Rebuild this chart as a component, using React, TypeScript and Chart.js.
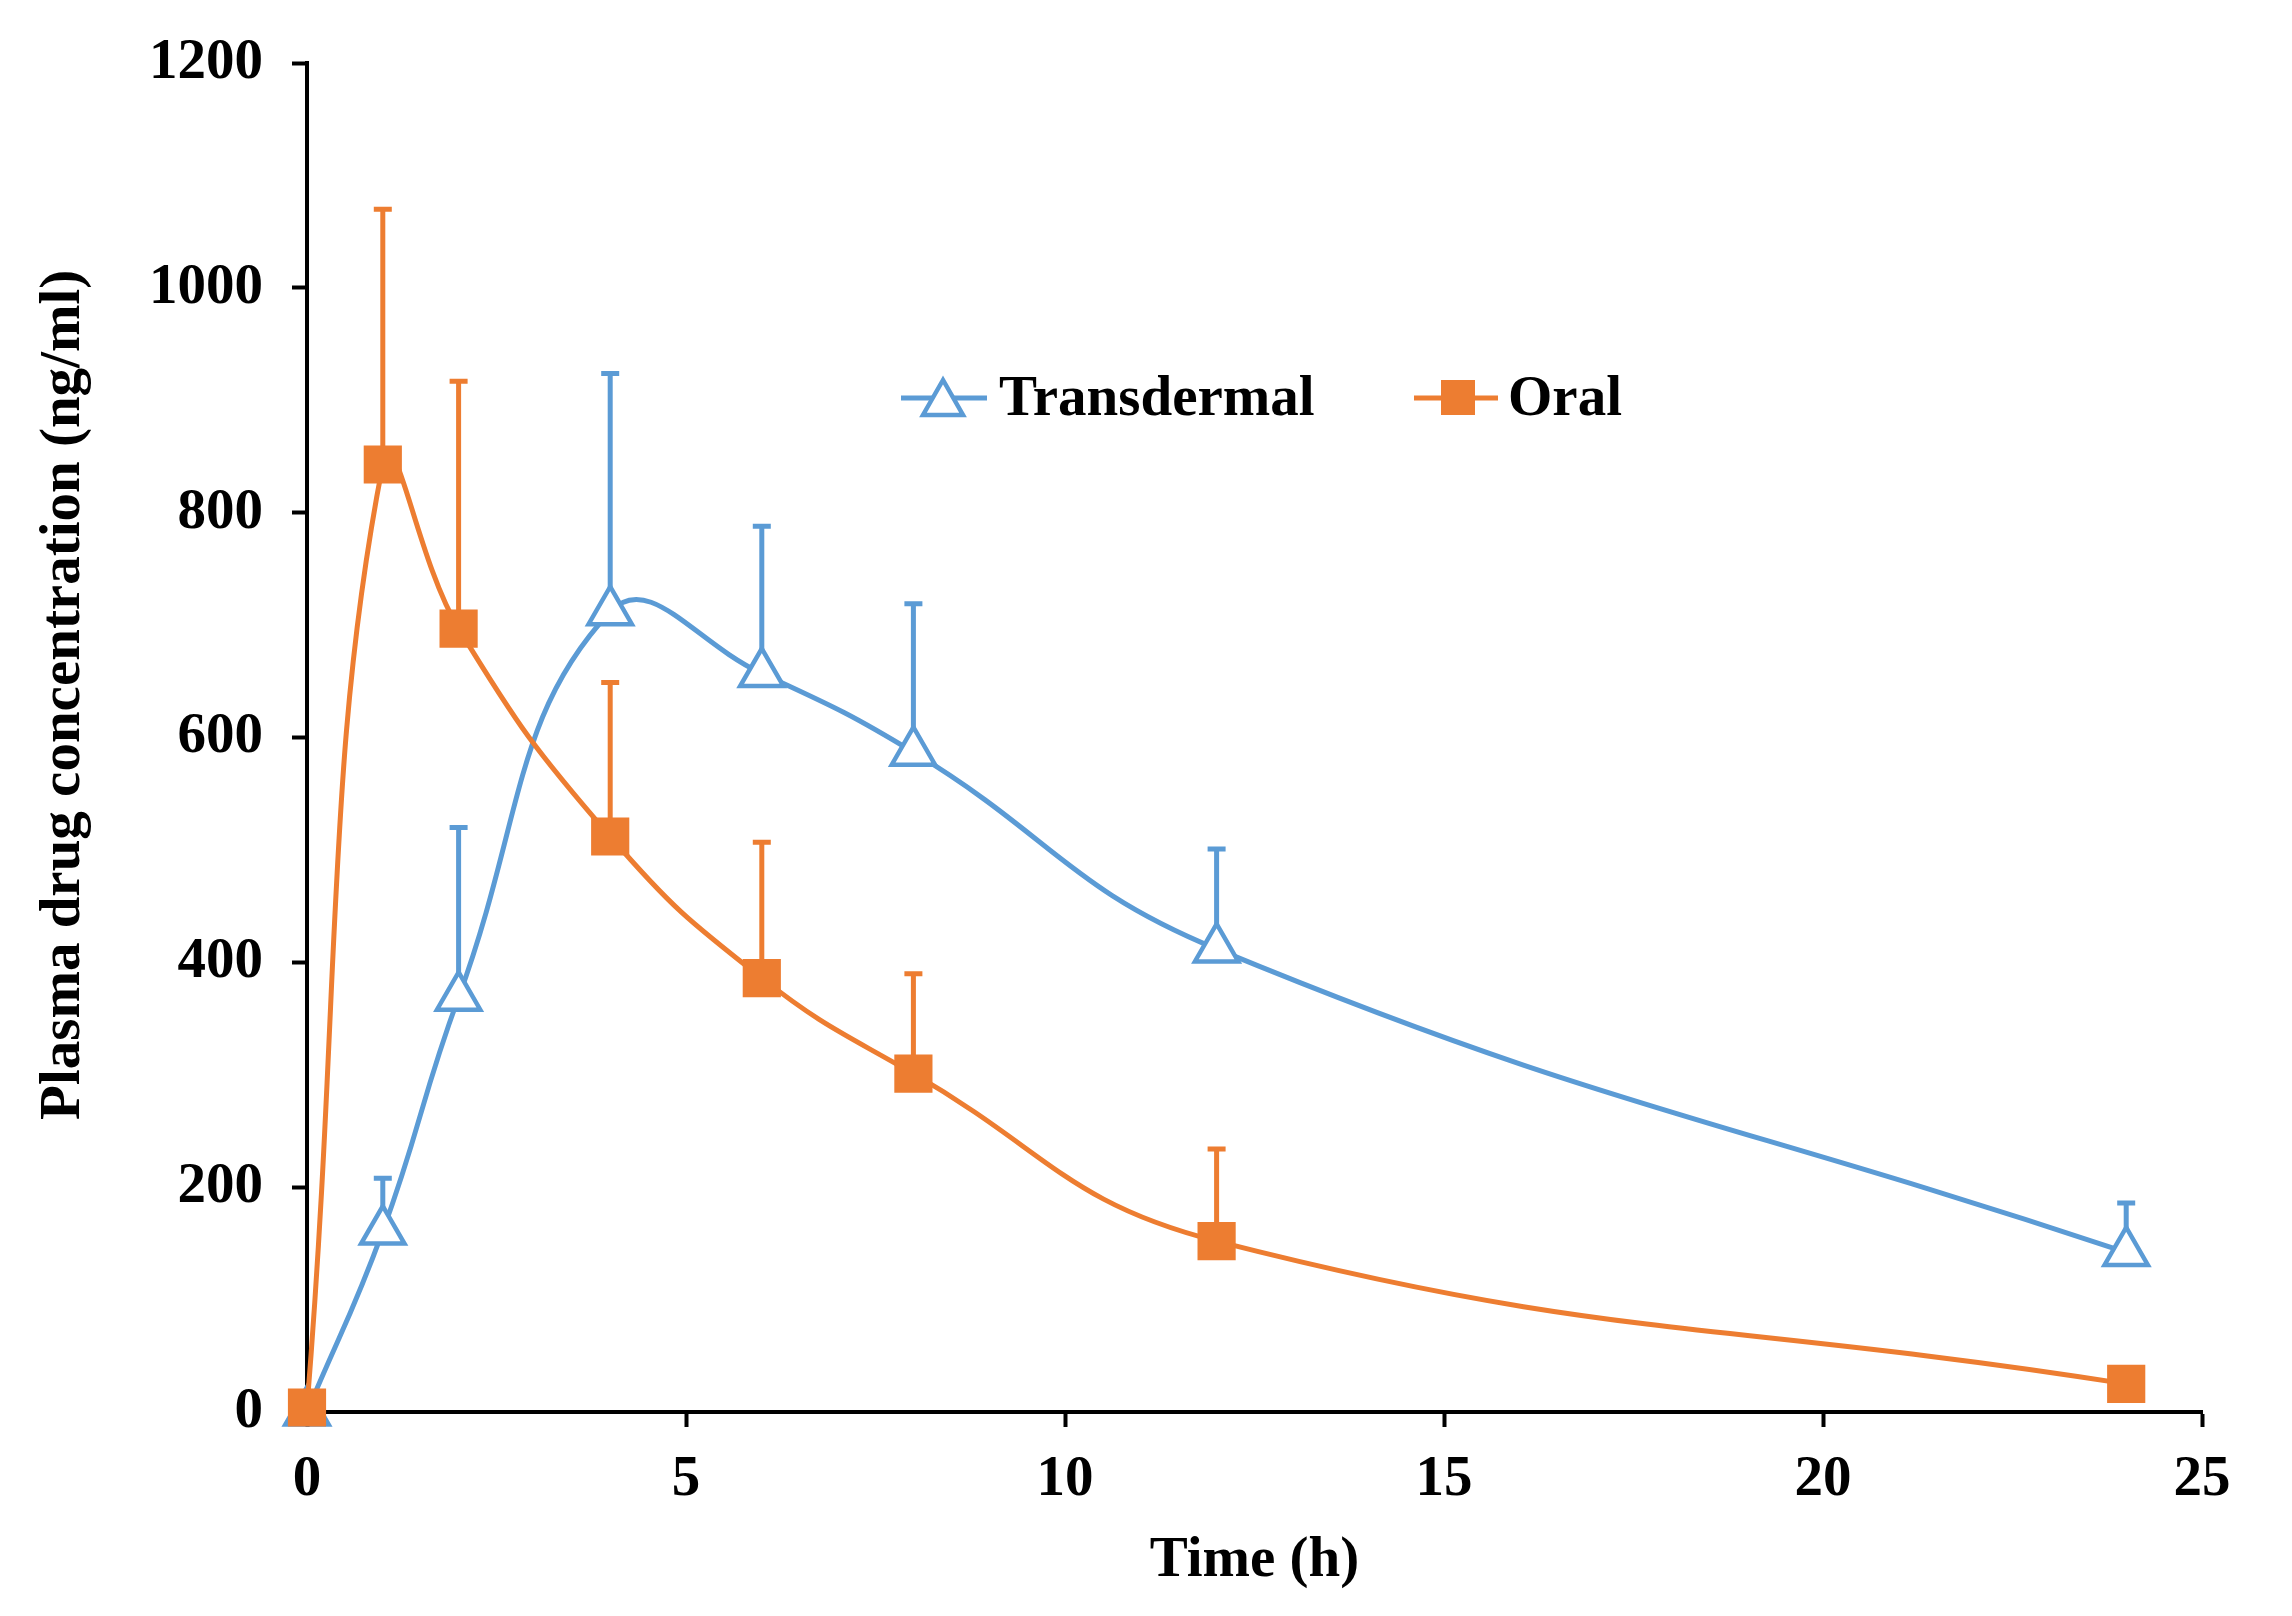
import { useEffect, useRef } from "react"
import { Chart, registerables } from "chart.js"

Chart.register(...registerables)

// sampling times (h) and mean ± SD (upper bar only)
const timeHours = [0, 1, 2, 4, 6, 8, 12, 24]
const transdermalMean = [0, 161, 369, 712, 657, 587, 412, 142]
const transdermalSD = [0, 47, 151, 212, 131, 132, 89, 44]
const oralMean = [4, 843, 697, 512, 386, 301, 152, 25]
const oralSD = [0, 227, 220, 137, 121, 89, 82, 0]

const xTicks = [0, 5, 10, 15, 20, 25]
const yTicks = [0, 200, 400, 600, 800, 1000, 1200]

const BLUE = "#5B9BD5"
const ORANGE = "#ED7D31"
const FONT = "'Liberation Serif', 'Times New Roman', serif"

const W = 2292
const H = 1616

const errorBars = {
  id: "errorBars",
  beforeDatasetsDraw(chart: any) {
    const { ctx, scales } = chart
    chart.data.datasets.forEach((ds: any, i: number) => {
      const sd: number[] = ds.sd || []
      const meta = chart.getDatasetMeta(i)
      ctx.save()
      ctx.strokeStyle = ds.borderColor
      ctx.lineWidth = 5
      meta.data.forEach((pt: any, j: number) => {
        if (!sd[j]) return
        const x = pt.x
        const y0 = scales.y.getPixelForValue(ds.data[j].y)
        const y1 = scales.y.getPixelForValue(ds.data[j].y + sd[j])
        ctx.beginPath()
        ctx.moveTo(x, y0)
        ctx.lineTo(x, y1)
        ctx.moveTo(x - 9, y1)
        ctx.lineTo(x + 9, y1)
        ctx.stroke()
      })
      ctx.restore()
    })
  },
}

export default function App() {
  const chartRef = useRef<HTMLCanvasElement>(null)
  const chartInstance = useRef<Chart | null>(null)

  useEffect(() => {
    if (!chartRef.current) return
    if (chartInstance.current) chartInstance.current.destroy()
    const ctx = chartRef.current.getContext("2d")
    if (!ctx) return

    const tickFont = { family: FONT, size: 57, weight: "bold" as const }

    chartInstance.current = new Chart(ctx, {
      type: "line",
      data: {
        datasets: [
          {
            label: "Transdermal",
            data: timeHours.map((t, i) => ({ x: t, y: transdermalMean[i] })),
            sd: transdermalSD,
            borderColor: BLUE,
            backgroundColor: "#ffffff",
            borderWidth: 5,
            tension: 0.45,
            pointStyle: "triangle",
            pointRadius: 25,
            pointBorderWidth: 4.5,
            pointBackgroundColor: "#ffffff",
            pointBorderColor: BLUE,
            clip: false,
            order: 1,
          } as any,
          {
            label: "Oral",
            data: timeHours.map((t, i) => ({ x: t, y: oralMean[i] })),
            sd: oralSD,
            borderColor: ORANGE,
            backgroundColor: ORANGE,
            borderWidth: 5,
            tension: 0.45,
            pointStyle: "rect",
            pointRadius: 27,
            pointBorderWidth: 0,
            pointBackgroundColor: ORANGE,
            clip: false,
            order: 0,
          } as any,
        ],
      },
      options: {
        responsive: false,
        animation: false,
        devicePixelRatio: 1,
        layout: { padding: { top: 51, right: 90, left: 0, bottom: 0 } },
        plugins: {
          legend: { display: false },
          tooltip: { enabled: false },
        },
        scales: {
          x: {
            type: "linear",
            min: 0,
            max: 25,
            afterFit: (scale: any) => {
              scale.height = H - 1412
            },
            afterBuildTicks: (scale: any) => {
              scale.ticks = xTicks.map((v) => ({ value: v }))
            },
            border: { color: "#000", width: 4 },
            grid: { drawOnChartArea: false, tickLength: 15, tickWidth: 4, tickColor: "#000" },
            ticks: { color: "#000", font: tickFont, padding: 19, callback: (v: any) => String(v) },
            title: {
              display: true,
              text: "Time (h)",
              color: "#000",
              font: tickFont,
              padding: { top: 0, bottom: 21 },
            },
          },
          y: {
            type: "linear",
            min: 0,
            max: 1200,
            afterFit: (scale: any) => {
              scale.width = 307
            },
            afterBuildTicks: (scale: any) => {
              scale.ticks = yTicks.map((v) => ({ value: v }))
            },
            border: { color: "#000", width: 4 },
            grid: { drawOnChartArea: false, tickLength: 15, tickWidth: 4, tickColor: "#000" },
            ticks: { color: "#000", font: tickFont, padding: 29, callback: (v: any) => String(v) },
            title: {
              display: true,
              text: "      Plasma drug concentration (ng/ml)",
              color: "#000",
              font: tickFont,
              padding: { top: 30, bottom: 0 },
            },
          },
        },
      },
      plugins: [errorBars],
    })

    return () => {
      if (chartInstance.current) {
        chartInstance.current.destroy()
        chartInstance.current = null
      }
    }
  }, [])

  const legendText = {
    position: "absolute" as const,
    top: 364,
    fontFamily: FONT,
    fontWeight: "bold" as const,
    fontSize: 57,
    lineHeight: "63px",
    color: "#000",
    whiteSpace: "nowrap" as const,
  }

  return (
    <div style={{ position: "absolute", left: 0, top: 0, width: W, height: H, background: "#fff" }}>
      <canvas ref={chartRef} width={W} height={H} style={{ display: "block" }} />
      <svg style={{ position: "absolute", left: 901, top: 373 }} width={86} height={50}>
        <line x1={0} y1={25} x2={86} y2={25} stroke={BLUE} strokeWidth={5} />
        <polygon points="42,7 22,42 62,42" fill="#fff" stroke={BLUE} strokeWidth={4.5} />
      </svg>
      <div style={{ ...legendText, left: 999 }}>Transdermal</div>
      <svg style={{ position: "absolute", left: 1414, top: 373 }} width={84} height={50}>
        <line x1={0} y1={25} x2={84} y2={25} stroke={ORANGE} strokeWidth={5} />
        <rect x={27} y={7} width={34} height={35} fill={ORANGE} />
      </svg>
      <div style={{ ...legendText, left: 1508 }}>Oral</div>
    </div>
  )
}
